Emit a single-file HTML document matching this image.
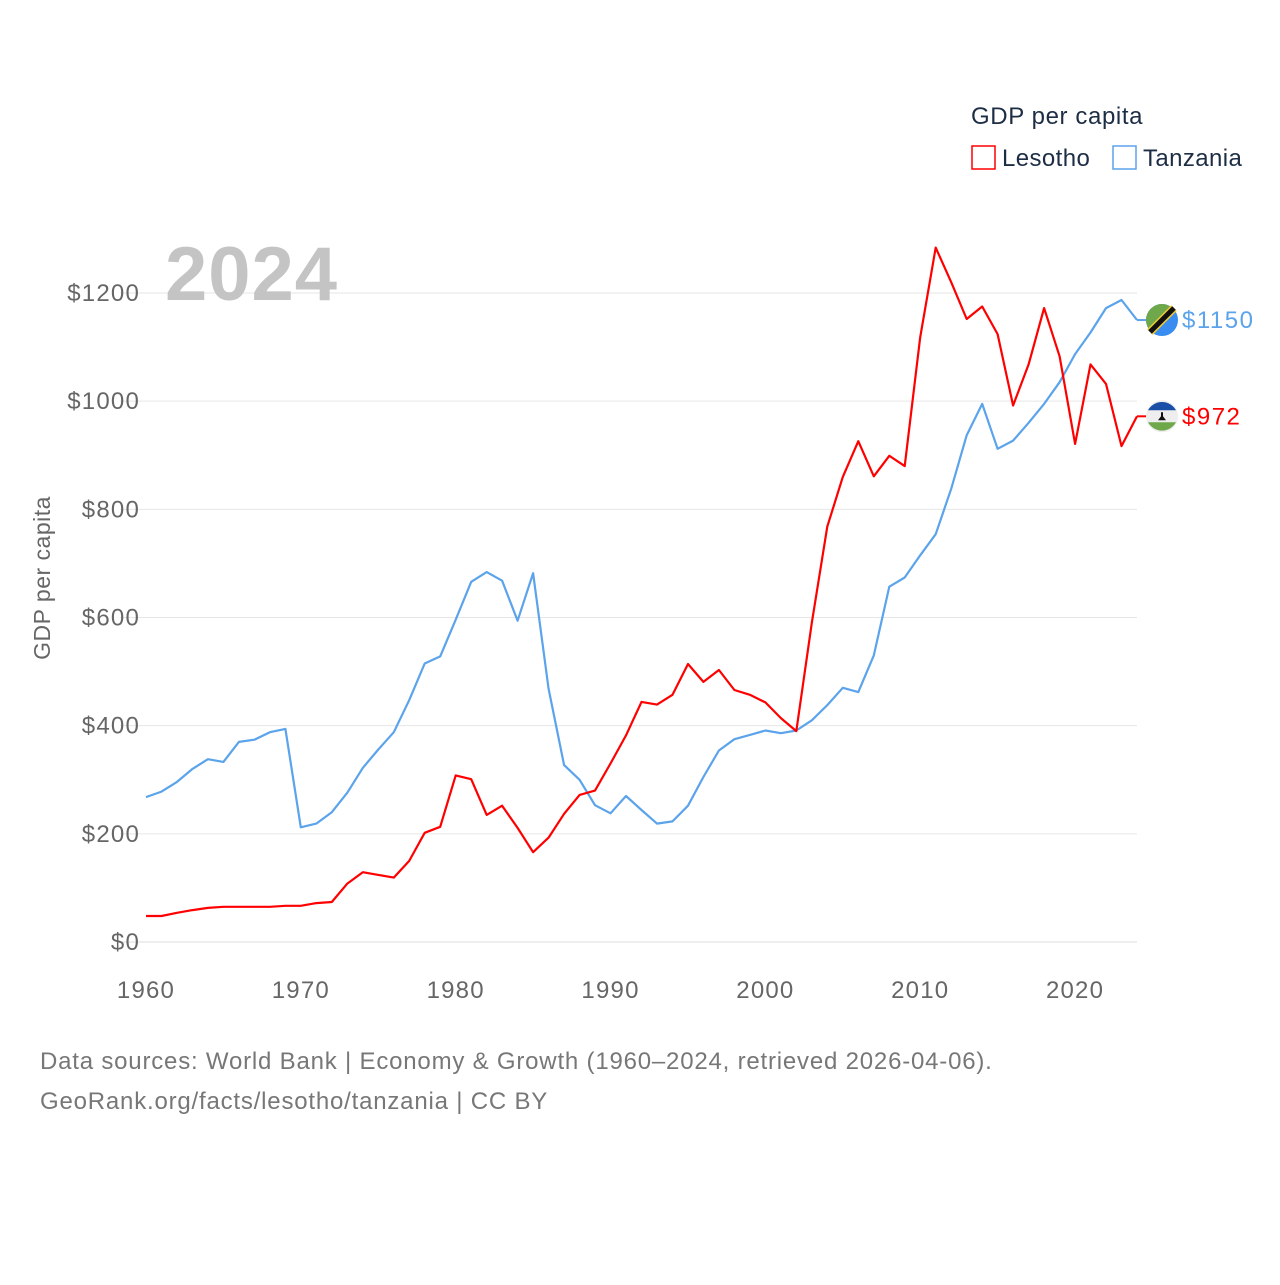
<!DOCTYPE html>
<html><head><meta charset="utf-8"><style>
body{margin:0;background:#fff;width:1280px;height:1280px;overflow:hidden;font-family:"Liberation Sans",sans-serif}
svg text{font-family:"Liberation Sans",sans-serif}
</style></head><body>
<svg id="chart" width="1280" height="1280" xmlns="http://www.w3.org/2000/svg">
<g id="grid"></g>
<g id="yticks"></g>
<g id="xticks"></g>
<text x="165" y="300" font-size="76" font-weight="bold" fill="#c4c4c4" letter-spacing="1">2024</text>
<text transform="translate(50,578) rotate(-90)" text-anchor="middle" font-size="23" fill="#666" letter-spacing="0.5">GDP per capita</text>
<g id="series"></g>
<text x="971" y="124" font-size="24" fill="#1d2d45" letter-spacing="0.6">GDP per capita</text>
<g><rect x="972" y="146" width="23" height="23" fill="none" stroke="#ff0000" stroke-width="1.5"/><text x="1002" y="166" font-size="24" fill="#1d2d45" letter-spacing="0.4">Lesotho</text></g>
<g><rect x="1113" y="146" width="23" height="23" fill="none" stroke="#5ba3eb" stroke-width="1.5"/><text x="1143" y="166" font-size="24" fill="#1d2d45" letter-spacing="0.4">Tanzania</text></g>
<g id="ends"></g>
<text x="40" y="1069" font-size="24" fill="#777" letter-spacing="0.8">Data sources: World Bank | Economy &amp; Growth (1960–2024, retrieved 2026-04-06).</text>
<text x="40" y="1109" font-size="24" fill="#777" letter-spacing="0.8">GeoRank.org/facts/lesotho/tanzania | CC BY</text>
</svg>
<script>
const years=[];for(let y=1960;y<=2024;y++)years.push(y);
const lesotho=[48,48,54,59,63,65,65,65,65,67,67,72,74,108,129,124,119,150,202,213,308,301,235,252,211,166,193,237,272,280,330,382,444,439,457,514,481,503,466,457,443,414,390,590,768,860,926,861,899,880,1118,1284,1220,1152,1175,1124,992,1068,1172,1083,921,1068,1032,917,972];
const tanzania=[268,278,296,320,338,333,370,374,388,394,212,219,240,276,322,356,388,447,515,528,596,666,684,668,594,682,468,327,300,253,238,270,244,219,223,252,305,354,375,383,391,386,391,410,438,470,462,530,657,674,715,754,838,937,995,912,927,960,995,1035,1087,1127,1172,1187,1150];
const yTicks=[0,200,400,600,800,1000,1200];
const yTickLabels=["$0","$200","$400","$600","$800","$1000","$1200"];
const xTicks=[1960,1970,1980,1990,2000,2010,2020];
const NS="http://www.w3.org/2000/svg";
const x=v=>146+(v-1960)*(1137-146)/64;
const y=v=>942-v*(942-293)/1200;
function el(t,a,p){const e=document.createElementNS(NS,t);for(const k in a)e.setAttribute(k,a[k]);p.appendChild(e);return e;}
const grid=document.getElementById('grid'),yt=document.getElementById('yticks'),xt=document.getElementById('xticks');
yTicks.forEach((v,i)=>{
 const l=el('line',{x1:120,x2:1137,y1:y(v),y2:y(v),stroke:v===0?'#dcdcdc':'#e6e6e6','stroke-width':1},grid);
 
 
 const t=el('text',{x:140,y:y(v)+8,'text-anchor':'end','font-size':24,fill:'#666','letter-spacing':1.2},yt);
 t.textContent=yTickLabels[i];
 
 
});
xTicks.forEach(v=>{
 const t=el('text',{x:x(v),y:998,'text-anchor':'middle','font-size':24,fill:'#666','letter-spacing':1.2},xt);
 t.textContent=v;
 
 
});
const s=document.getElementById('series');
[[tanzania,'#5ba3eb','tanzania-line'],[lesotho,'#ff0000','lesotho-line']].forEach(([d,c,n])=>{
 const p=el('path',{d:d.map((v,i)=>(i?'L':'M')+x(years[i]).toFixed(1)+','+y(v).toFixed(1)).join(''),fill:'none',stroke:c,'stroke-width':2.2,'stroke-linejoin':'round'},s);
 
 
});
const ends=document.getElementById('ends');
function endLabel(v,c,txt,name,flag){
 const yy=y(v);
 const g=el('g',{},ends);
 
 
 el('line',{x1:1137,x2:1147,y1:yy,y2:yy,stroke:c,'stroke-width':2},g);
 const cx=1162,r=16;
 if(flag==='tz'){
  const cp=el('clipPath',{id:'ctz'},g);
  el('circle',{cx:cx,cy:yy,r:r},cp);
  el('circle',{cx:cx,cy:yy,r:r,fill:'#3a8df0'},g);
  el('path',{d:`M${cx-r},${yy-r}L${cx+r},${yy-r}L${cx-r},${yy+r}Z`,fill:'#6ea84a','clip-path':'url(#ctz)'},g);
  el('line',{x1:cx-12,y1:yy+12,x2:cx+12,y2:yy-12,stroke:'#f2cb30','stroke-width':8},g);
  el('line',{x1:cx-12,y1:yy+12,x2:cx+12,y2:yy-12,stroke:'#111','stroke-width':5},g);
 }else{
  el('circle',{cx:cx,cy:yy,r:r,fill:'#eee'},g);
  el('path',{d:`M${cx-14},${yy-6}A${r},${r} 0 0 1 ${cx+14},${yy-6}Z`,fill:'#1a4fa8'},g);
  el('path',{d:`M${cx-14},${yy+6}A${r},${r} 0 0 0 ${cx+14},${yy+6}Z`,fill:'#6ea84a'},g);
  el('path',{d:`M${cx-4},${yy+4}L${cx+4},${yy+4}L${cx+1},${yy}L${cx+1},${yy-4}L${cx-1},${yy-4}L${cx-1},${yy}Z`,fill:'#111'},g);
 }
 const t=el('text',{x:1182,y:yy+8,'font-size':24,fill:c,'letter-spacing':1.5},g);
 t.textContent=txt;
}
endLabel(tanzania[tanzania.length-1],'#5ba3eb','$1150','tanzania-end-label','tz');
endLabel(lesotho[lesotho.length-1],'#ff0000','$972','lesotho-end-label','ls');
</script>
</body></html>
